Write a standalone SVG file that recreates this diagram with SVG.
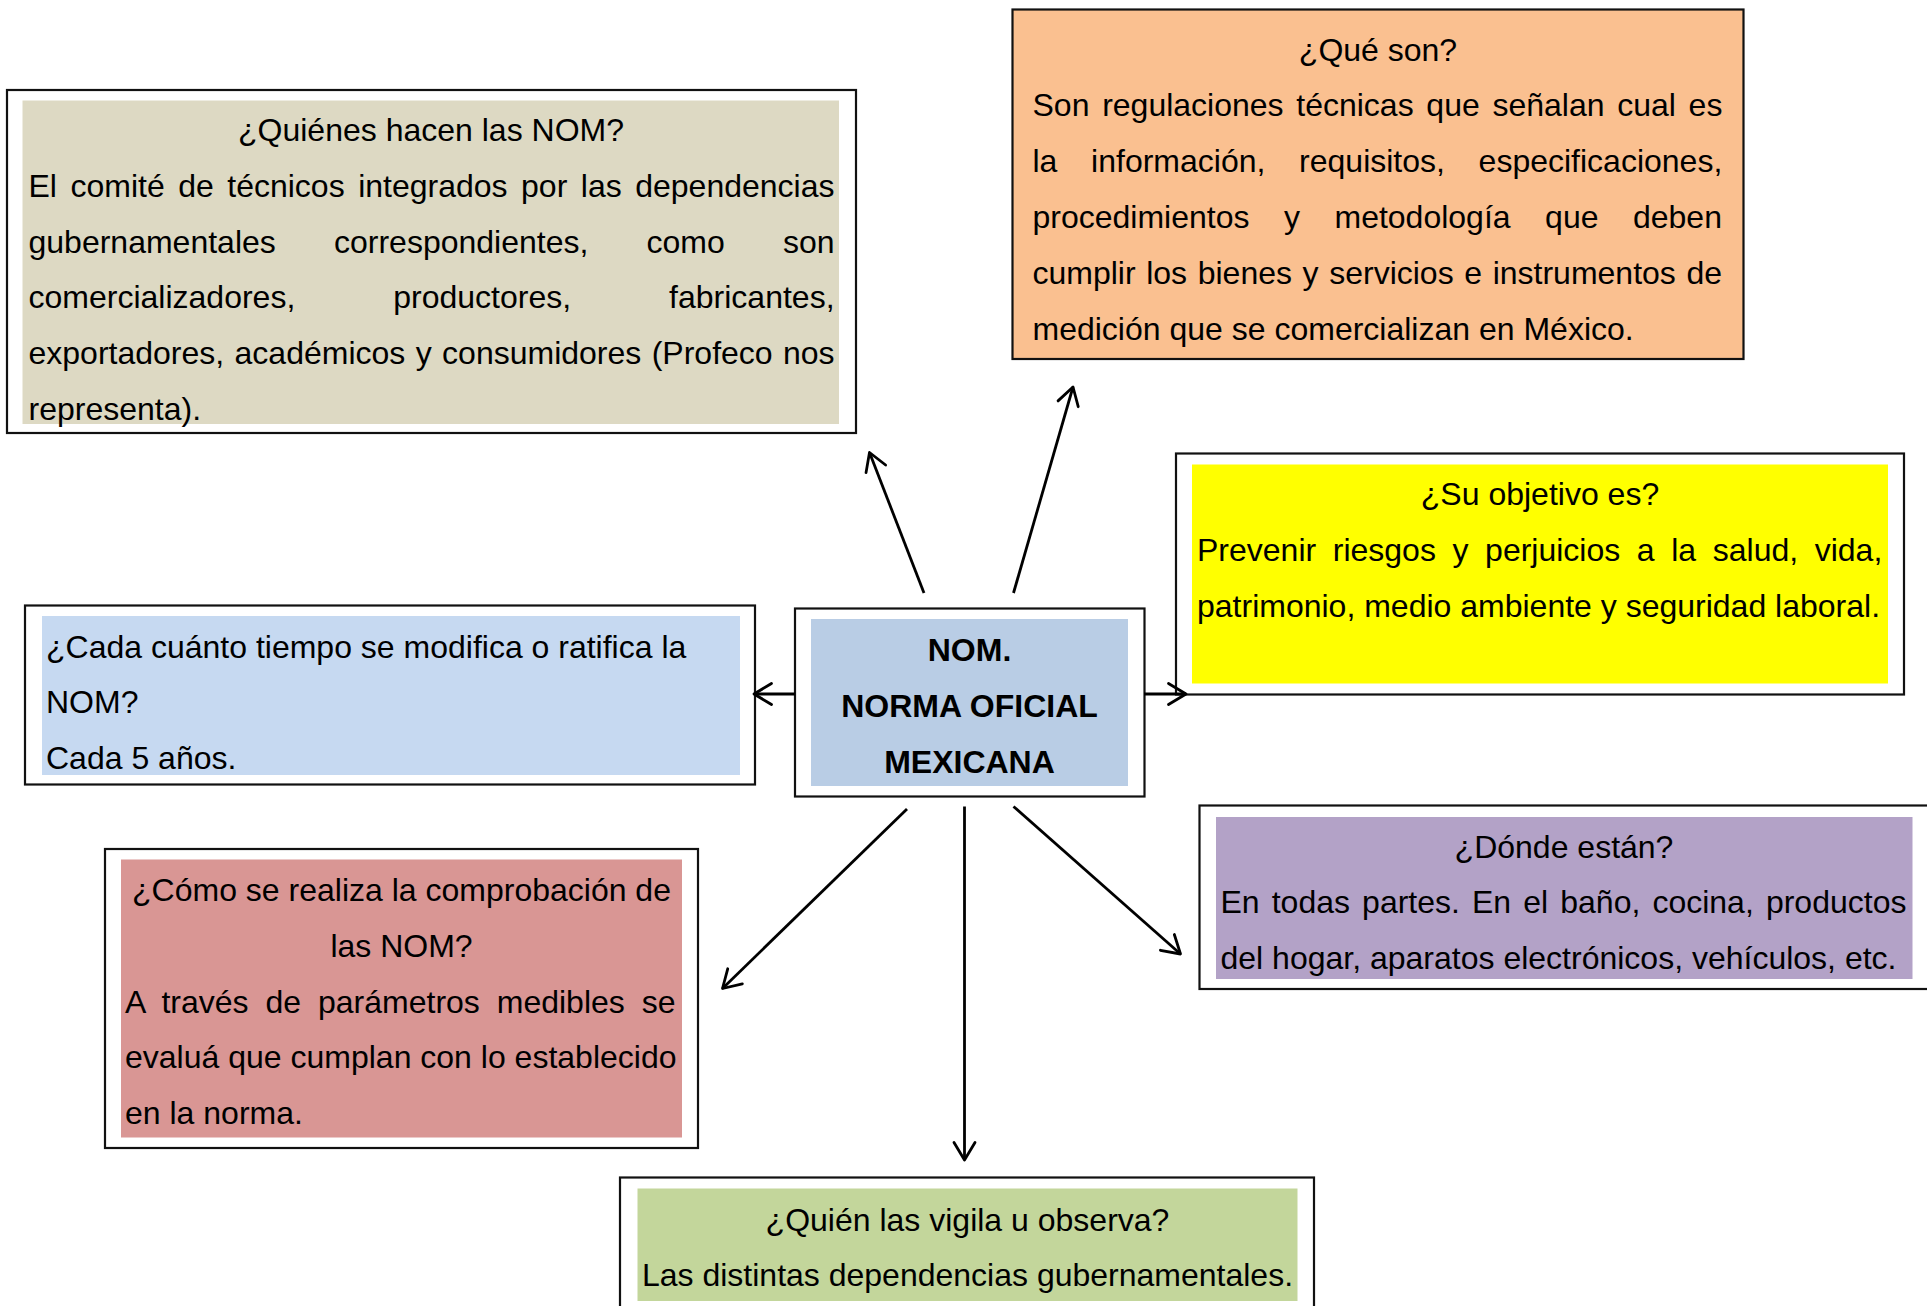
<svg xmlns="http://www.w3.org/2000/svg" width="1927" height="1306" viewBox="0 0 1927 1306">
<defs>
<style>
.bx{fill:#ffffff;stroke:#111;stroke-width:2.2}
.t{font-family:"Liberation Sans",Arial,sans-serif;font-size:32px;fill:#000}
.c{text-anchor:middle}
.b{font-weight:bold}
.ar{stroke:#000;stroke-width:2.8;fill:none}
</style>
<marker id="ah" markerUnits="userSpaceOnUse" viewBox="0 0 22 22" markerWidth="22" markerHeight="22" refX="20" refY="11" orient="auto" overflow="visible">
<path d="M2.5,0.5 L20,11 L2.5,21.5" fill="none" stroke="#000" stroke-width="2.8" stroke-linejoin="round" stroke-linecap="round"/>
</marker>
</defs>
<rect width="1927" height="1306" fill="#fff"/>

<g id="quienes">
<rect class="bx" x="7" y="90" width="849" height="343"/>
<rect x="22.5" y="100.5" width="816.5" height="323.5" fill="#DDD9C3"/>
<text class="t c" x="431" y="141">¿Quiénes hacen las NOM?</text>
<text class="t" x="28.5" y="196.8" style="word-spacing:4.6px">El comité de técnicos integrados por las dependencias</text>
<text class="t" x="28.5" y="252.6" style="word-spacing:49.3px">gubernamentales correspondientes, como son</text>
<text class="t" x="28.5" y="308.4" style="word-spacing:89.1px">comercializadores, productores, fabricantes,</text>
<text class="t" x="28.5" y="364.2" style="word-spacing:1.5px">exportadores, académicos y consumidores (Profeco nos</text>
<text class="t" x="28.5" y="420">representa).</text>
</g>

<g id="queson">
<rect x="1012.5" y="9.5" width="731" height="349.5" fill="#FAC090" stroke="#111" stroke-width="2.2"/>
<text class="t c" x="1378" y="60.5">¿Qué son?</text>
<text class="t" x="1032.5" y="116.4" style="word-spacing:3.8px">Son regulaciones técnicas que señalan cual es</text>
<text class="t" x="1032.5" y="172.3" style="word-spacing:24.8px">la información, requisitos, especificaciones,</text>
<text class="t" x="1032.5" y="228.2" style="word-spacing:25.6px">procedimientos y metodología que deben</text>
<text class="t" x="1032.5" y="284.1" style="word-spacing:1.7px">cumplir los bienes y servicios e instrumentos de</text>
<text class="t" x="1032.5" y="340">medición que se comercializan en México.</text>
</g>

<g id="objetivo">
<rect class="bx" x="1176" y="453.5" width="728" height="241"/>
<rect x="1192" y="464.5" width="696" height="219" fill="#FFFF00"/>
<text class="t c" x="1540" y="504.5">¿Su objetivo es?</text>
<text class="t" x="1197" y="560.5" style="word-spacing:7.7px">Prevenir riesgos y perjuicios a la salud, vida,</text>
<text class="t" x="1197" y="616.5">patrimonio, medio ambiente y seguridad laboral.</text>
</g>

<g id="donde">
<rect class="bx" x="1199.5" y="805.5" width="740" height="183.5"/>
<rect x="1216" y="817" width="696.5" height="162" fill="#B3A2C7"/>
<text class="t c" x="1564" y="857.5">¿Dónde están?</text>
<text class="t" x="1220.5" y="913" style="word-spacing:3.2px">En todas partes. En el baño, cocina, productos</text>
<text class="t" x="1220.5" y="968.5">del hogar, aparatos electrónicos, vehículos, etc.</text>
</g>

<g id="cada">
<rect class="bx" x="25" y="605.5" width="730" height="179"/>
<rect x="42" y="616" width="698" height="159" fill="#C6D9F1"/>
<text class="t" x="46" y="657.5">¿Cada cuánto tiempo se modifica o ratifica la</text>
<text class="t" x="46" y="713.3">NOM?</text>
<text class="t" x="46" y="769">Cada 5 años.</text>
</g>

<g id="nom">
<rect class="bx" x="795" y="608.5" width="349.5" height="188"/>
<rect x="811" y="619" width="317" height="167" fill="#B9CDE5"/>
<text class="t c b" x="969.5" y="661">NOM.</text>
<text class="t c b" x="969.5" y="716.5">NORMA OFICIAL</text>
<text class="t c b" x="969.5" y="772.5">MEXICANA</text>
</g>

<g id="como">
<rect class="bx" x="105" y="849" width="593" height="299"/>
<rect x="121" y="859.5" width="561" height="278" fill="#D99694"/>
<text class="t c" x="401.5" y="901">¿Cómo se realiza la comprobación de</text>
<text class="t c" x="401.5" y="956.8">las NOM?</text>
<text class="t" x="125" y="1012.6" style="word-spacing:8px">A través de parámetros medibles se</text>
<text class="t" x="125" y="1068.4">evaluá que cumplan con lo establecido</text>
<text class="t" x="125" y="1124.2">en la norma.</text>
</g>

<g id="vigila">
<rect class="bx" x="620" y="1177.5" width="694" height="140"/>
<rect x="637.5" y="1188.5" width="660" height="112.5" fill="#C3D69B"/>
<text class="t c" x="967.5" y="1230.5">¿Quién las vigila u observa?</text>
<text class="t c" x="967.5" y="1285.5">Las distintas dependencias gubernamentales.</text>
</g>

<g id="connectors">
<line class="ar" x1="924" y1="593" x2="869.5" y2="452.5" marker-end="url(#ah)"/>
<line class="ar" x1="1013.5" y1="593" x2="1073" y2="387" marker-end="url(#ah)"/>
<line class="ar" x1="1144" y1="694" x2="1186" y2="694" marker-end="url(#ah)"/>
<line class="ar" x1="795" y1="694" x2="754" y2="694" marker-end="url(#ah)"/>
<line class="ar" x1="907" y1="809" x2="722.5" y2="988.5" marker-end="url(#ah)"/>
<line class="ar" x1="964.5" y1="806.5" x2="964.5" y2="1160" marker-end="url(#ah)"/>
<line class="ar" x1="1013.5" y1="806.5" x2="1180.5" y2="954" marker-end="url(#ah)"/>
</g>
</svg>
